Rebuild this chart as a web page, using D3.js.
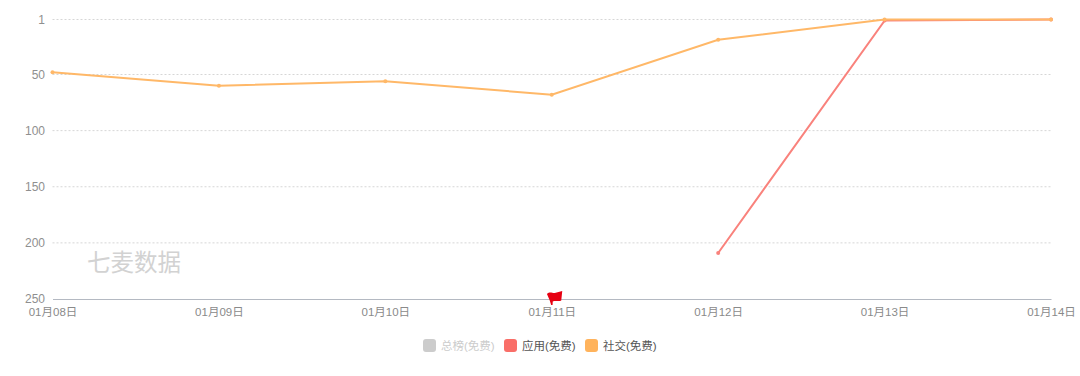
<!DOCTYPE html>
<html>
<head>
<meta charset="utf-8">
<script src="https://cdn.jsdelivr.net/npm/d3@7"></script>
<style>
  html, body { margin: 0; padding: 0; background: #fff; }
  svg { display: block; }
  text { font-family: "Liberation Sans", "Noto Sans CJK SC", sans-serif; }
</style>
</head>
<body>
<svg id="rank" width="1080" height="376"></svg>
<script>
var dates = ["01月08日", "01月09日", "01月10日", "01月11日", "01月12日", "01月13日", "01月14日"];
var rankTicks = [1, 50, 100, 150, 200, 250];
var appRank = [null, null, null, null, 209, 2, 1];
var socialRank = [48, 60, 56, 68, 19, 1, 1];
var legendNames = ["总榜(免费)", "应用(免费)", "社交(免费)"];
var flagDate = "01月11日";
var flagRank = 250;

var svg = d3.select("#rank");

var x = d3.scalePoint().domain(dates).range([52.5, 1051]);
var y = d3.scaleLinear().domain([1, 250]).range([19.5, 299]);

// grid lines + left labels
var yAxis = d3.axisLeft(y).tickValues(rankTicks).tickSize(0).tickPadding(0).tickFormat(d3.format("d"));
var gy = svg.append("g").attr("transform", "translate(45,0)").call(yAxis);
gy.select(".domain").remove();
gy.selectAll("text").attr("font-size", 12).attr("fill", "#8f8f8f");

svg.append("g").selectAll("line")
  .data(rankTicks.slice(0, -1))
  .enter()
  .append("line")
  .attr("x1", 52.5)
  .attr("x2", 1051)
  .attr("y1", function(d) { return y(d); })
  .attr("y2", function(d) { return y(d); })
  .attr("stroke", "#d6d6d6")
  .attr("stroke-dasharray", "2,2");

// bottom axis
var xAxis = d3.axisBottom(x).tickSize(0).tickPadding(9);
var gx = svg.append("g").attr("transform", "translate(0," + y(250) + ")").call(xAxis);
gx.select(".domain").attr("stroke", "#b4b9c2");
gx.selectAll("text").attr("font-size", 11.5).attr("fill", "#8a8a8a");

// watermark
svg.append("text")
  .attr("x", 87)
  .attr("y", 271)
  .attr("font-size", 23.5)
  .attr("fill", "#d2d2d2")
  .text("七麦数据");

var line = d3.line()
  .defined(function(d) { return d != null; })
  .x(function(d, i) { return x(dates[i]); })
  .y(function(d) { return y(d); });

function drawSeries(values, color) {
  var g = svg.append("g");
  g.append("path")
    .attr("d", line(values))
    .attr("fill", "none")
    .attr("stroke", color)
    .attr("stroke-width", 2);
  g.selectAll("circle")
    .data(values.map(function(d, i) { return { date: dates[i], rank: d }; }).filter(function(d) { return d.rank != null; }))
    .enter()
    .append("circle")
    .attr("cx", function(d) { return x(d.date); })
    .attr("cy", function(d) { return y(d.rank); })
    .attr("r", 2)
    .attr("fill", color);
}

drawSeries(appRank, "#f9827c");
drawSeries(socialRank, "#ffb868");

// red flag on the axis
svg.append("path")
  .attr("transform", "translate(" + x(flagDate) + "," + y(flagRank) + ")")
  .attr("d", "M0.8,6 L-0.6,6 L-2,1.5 L-4.8,-5 C-2,-8 1,-5.5 3,-6 L10.5,-8 L9.5,1.5 C7,3 4,1 1,2.5 Z")
  .attr("fill", "#e60012");

// legend
var legendColors = ["#cccccc", "#f96e68", "#ffb35c"];
var legendText = ["#cccccc", "#555555", "#555555"];
var legendX = [423, 504, 585];
var items = svg.append("g").selectAll("g")
  .data(legendNames)
  .enter()
  .append("g")
  .attr("transform", function(d, i) { return "translate(" + legendX[i] + ",339)"; });

items.append("rect")
  .attr("width", 13)
  .attr("height", 13)
  .attr("rx", 3)
  .attr("fill", function(d, i) { return legendColors[i]; });

items.append("text")
  .attr("x", 18)
  .attr("y", 11)
  .attr("font-size", 11.5)
  .attr("fill", function(d, i) { return legendText[i]; })
  .text(function(d) { return d; });
</script>
</body>
</html>
